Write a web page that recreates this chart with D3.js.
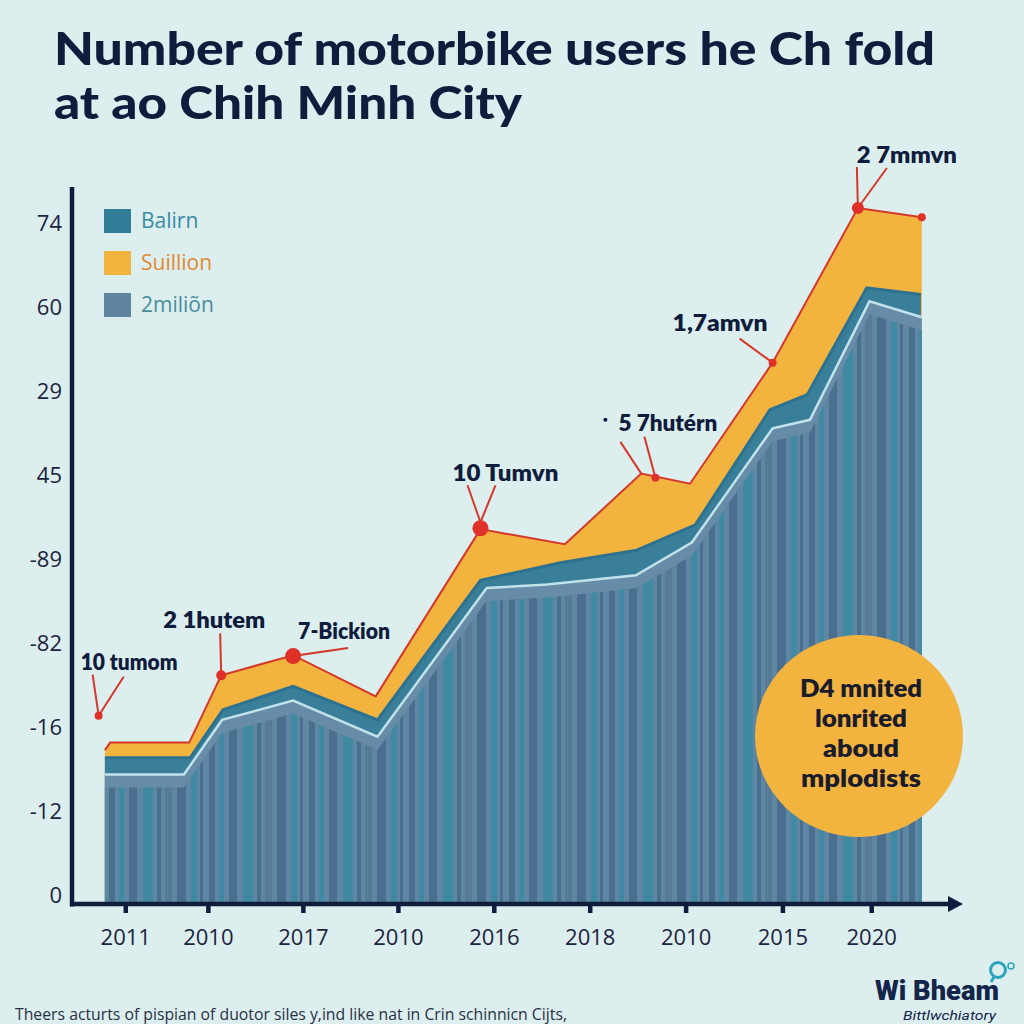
<!DOCTYPE html>
<html><head><meta charset="utf-8">
<script src="https://cdn.jsdelivr.net/npm/d3@7"></script>
<style>html,body{margin:0;padding:0;background:#dceeee;} svg{display:block;}</style>
</head><body>
<script>
// ---------- data ----------
const titleLines = ["Number of motorbike users he Ch fold", "at ao Chih Minh City"];
const xTickLabels = ["2011","2010","2017","2010","2016","2018","2010","2015","2020"];
const xTickVals = [6.0, 15.3, 26.0, 36.7, 47.5, 58.3, 69.1, 80.0, 90.0];
const yTickLabels = ["0","-12","-16","-82","-89","45","29","60","74"];
const yTickVals = [0, 10, 20, 30, 40, 50, 60, 70, 80];
const seriesNames = ["Balirn", "Suillion", "2miliõn"];
// cumulative tops of each layer: [x, value]
const suillionTop = [[3.7,17.3],[4.3,18.2],[13.2,18.2],[16.8,26.2],[24.9,28.6],[34.2,23.7],[46.0,43.6],[55.5,41.8],[64.1,50.2],[69.6,49.0],[78.9,63.4],[88.5,81.8],[95.7,80.7]];
const balirnTop   = [[3.7,16.4],[13.3,16.4],[17.0,22.1],[24.9,24.9],[34.4,20.9],[46.0,37.5],[55.0,39.6],[63.6,41.1],[70.2,44.1],[78.6,57.8],[82.8,59.6],[89.5,72.3],[95.6,71.5]];
const milionTop   = [[3.7,14.4],[12.6,14.4],[16.9,20.9],[24.9,23.2],[34.4,18.9],[46.7,36.6],[53.5,37.0],[63.5,38.1],[69.8,42.0],[78.9,55.6],[83.1,56.6],[89.8,70.7],[95.7,68.8]];
const calloutTexts  = ["10 tumom","2 1hutem","7-Bickion","10 Tumvn","5 7hutérn","1,7amvn","2 7mmvn"];
const calloutPoints = [[3.0,21.4],[16.8,26.2],[24.9,28.5],[46.0,43.7],[65.7,49.7],[78.9,63.4],[88.5,81.8]];
const endPoint = [95.7, 80.7];
const bubbleLines = ["D4 mnited","lonrited","aboud","mplodists"];
const footnote = "Theers acturts of pispian of duotor siles y,ind like nat in Crin schinnicn Cijts,";
const logoName = "Wi Bheam";
const logoSub = "Bittlwchiatory";

// ---------- layout / style ----------
const C = {
  bg: "#dceeee", navy: "#101c3c", orange: "#f2b33f", teal: "#3a7f99", tealEdge: "#2d7190",
  barBase: "#668cA8", light: "#c2e2ea", red: "#d6372b", text: "#1d2440"
};
const calloutLayout = [
  {tx:-18, ty:-54, w:97,  r:4, lines:[[-6,-41,0,0],[25,-39,0,0]]},
  {tx:-58, ty:-56, w:102, r:5, lines:[[-1,-42,0,0]]},
  {tx:5,   ty:-25, w:92,  r:8, lines:[[55,-8,0,0]]},
  {tx:-28, ty:-56, w:106, r:8, lines:[[-13,-43,0,-6],[15,-43,0,-6]]},
  {tx:-37, ty:-55, w:99,  r:4, lines:[[-35,-36,-14,-4],[-11,-41,0,0]], dot:[-50,-58]},
  {tx:-100,ty:-40, w:95,  r:4, lines:[[-33,-24,0,0]]},
  {tx:-1,  ty:-53, w:100, r:6, lines:[[-1,-41,0,0],[29,-40,0,0]]}
];
const stripeStyle = [
  [4,6,"#4a6e8e"],[14,5,"#3f8aa2"],[24,8,"#4b6f8f"],[38,10,"#3f89a1"],[52,4,"#4a6e8e"],
  [60,7,"#557b99"],[72,9,"#4a6e8e"],[86,6,"#3f8aa2"],[95,3,"#4b6f8f"]
];

const W = 1024, H = 1024;
const svg = d3.select("body").append("svg").attr("width", W).attr("height", H);
svg.append("rect").attr("width", W).attr("height", H).attr("fill", C.bg);

const x = d3.scaleLinear().domain([0, 100]).range([72, 960]);
const y = d3.scaleLinear().domain([-1, 84.3]).range([904, 187]);
const base = y.domain()[0];

// title
const title = svg.append("g").attr("font-family", "Lato, 'Open Sans', sans-serif").attr("font-weight", 900)
  .attr("fill", C.navy).attr("font-size", 46);
title.append("text").attr("x", 54).attr("y", 65).attr("textLength", 881).attr("lengthAdjust", "spacingAndGlyphs").text(titleLines[0]);
title.append("text").attr("x", 54).attr("y", 119).attr("textLength", 468).attr("lengthAdjust", "spacingAndGlyphs").text(titleLines[1]);

// defs
const defs = svg.append("defs");
const pat = defs.append("pattern").attr("id", "stripes").attr("patternUnits", "userSpaceOnUse")
  .attr("x", 105).attr("y", 0).attr("width", 100).attr("height", H);
pat.append("rect").attr("width", 100).attr("height", H).attr("fill", "#5f86a3");
stripeStyle.forEach(s => pat.append("rect").attr("x", s[0]).attr("width", s[1]).attr("height", H).attr("fill", s[2]));

const areaGen = d3.area().x(d => x(d[0])).y0(y(base)).y1(d => y(d[1]));
const areaShift = d3.area().x(d => x(d[0])).y0(y(base)).y1(d => y(d[1]) + 13);
const lineGen = d3.line().x(d => x(d[0])).y(d => y(d[1]));

defs.append("clipPath").attr("id", "barclip").append("path").attr("d", areaShift(milionTop));

// layers
svg.append("path").attr("d", areaGen(suillionTop)).attr("fill", C.orange);
svg.append("path").attr("d", areaGen(balirnTop)).attr("fill", C.teal);
svg.append("path").attr("d", lineGen(balirnTop)).attr("fill", "none").attr("stroke", C.tealEdge).attr("stroke-width", 3);
svg.append("path").attr("d", areaGen(milionTop)).attr("fill", C.barBase);
svg.append("rect").attr("x", 0).attr("y", 0).attr("width", W).attr("height", H)
  .attr("fill", "url(#stripes)").attr("clip-path", "url(#barclip)");
svg.append("path").attr("d", lineGen(milionTop)).attr("fill", "none").attr("stroke", C.light).attr("stroke-width", 2.5);
svg.append("path").attr("d", lineGen(suillionTop)).attr("fill", "none").attr("stroke", C.red).attr("stroke-width", 2);

// axes
const yAxis = d3.axisLeft(y).tickValues(yTickVals).tickFormat((d, i) => yTickLabels[i]).tickSize(0).tickPadding(10);
const gy = svg.append("g").attr("transform", `translate(${x(0)},0)`).call(yAxis);
gy.select(".domain").remove();
gy.selectAll("text").attr("font-family", "'Open Sans', sans-serif").attr("font-size", 22).attr("fill", C.text);

const xAxis = d3.axisBottom(x).tickValues(xTickVals).tickFormat((d, i) => xTickLabels[i]).tickSize(9).tickPadding(16);
const gx = svg.append("g").attr("transform", `translate(0,${y(base)})`).call(xAxis);
gx.select(".domain").remove();
gx.selectAll(".tick line").attr("stroke", C.navy).attr("stroke-width", 4.5);
gx.selectAll("text").attr("font-family", "'Open Sans', sans-serif").attr("font-size", 22).attr("fill", C.text);

svg.append("line").attr("x1", x(0)).attr("x2", x(0)).attr("y1", y.range()[1]).attr("y2", y(base) + 2.5)
  .attr("stroke", C.navy).attr("stroke-width", 4.5);
svg.append("line").attr("x1", x(0) - 2).attr("x2", x(100) - 6).attr("y1", y(base)).attr("y2", y(base))
  .attr("stroke", C.navy).attr("stroke-width", 4.5);
svg.append("path").attr("d", `M${x(100) - 12},${y(base) - 8} L${x(100) + 3},${y(base)} L${x(100) - 12},${y(base) + 8} Z`).attr("fill", C.navy);

// legend
const legColors = [ "#2f7d96", C.orange, "#5f849f" ];
const legText = [ "#3b8ba1", "#e08934", "#4a8d9b" ];
const legY = [221, 263, 305];
seriesNames.forEach((n, i) => {
  svg.append("rect").attr("x", 104).attr("y", legY[i] - 12).attr("width", 27).attr("height", 24).attr("fill", legColors[i]);
  svg.append("text").attr("x", 141).attr("y", legY[i]).attr("dy", "0.35em").attr("font-family", "'Open Sans', sans-serif")
    .attr("font-size", 21).attr("fill", legText[i]).text(n);
});

// callouts
const cg = svg.append("g");
calloutPoints.forEach((p, i) => {
  const L = calloutLayout[i];
  const px = x(p[0]), py = y(p[1]);
  L.lines.forEach(l => cg.append("line").attr("x1", px + l[0]).attr("y1", py + l[1]).attr("x2", px + l[2]).attr("y2", py + l[3])
    .attr("stroke", C.red).attr("stroke-width", 2));
  cg.append("circle").attr("cx", px).attr("cy", py).attr("r", L.r).attr("fill", "#e0302a");
  if (L.dot) cg.append("circle").attr("cx", px + L.dot[0]).attr("cy", py + L.dot[1]).attr("r", 2).attr("fill", C.navy);
  cg.append("text").attr("x", px + L.tx).attr("y", py + L.ty).attr("dy", "0.36em")
    .attr("font-family", "Lato, 'Open Sans', sans-serif").attr("font-weight", 800).attr("font-size", 23)
    .attr("fill", C.navy).attr("textLength", L.w).attr("lengthAdjust", "spacingAndGlyphs").text(calloutTexts[i]);
});
cg.append("circle").attr("cx", x(endPoint[0])).attr("cy", y(endPoint[1])).attr("r", 4).attr("fill", "#e0302a");

// bubble
svg.append("ellipse").attr("cx", 859).attr("cy", 736).attr("rx", 104).attr("ry", 101).attr("fill", C.orange);
const bubY = [688, 718, 748, 778];
const bubW = [122, 92, 76, 120];
bubbleLines.forEach((t, i) => {
  svg.append("text").attr("x", 861).attr("y", bubY[i]).attr("dy", "0.36em").attr("text-anchor", "middle")
    .attr("font-family", "Lato, 'Open Sans', sans-serif").attr("font-weight", 800).attr("font-size", 25)
    .attr("fill", "#1a1b2c").attr("textLength", bubW[i]).attr("lengthAdjust", "spacingAndGlyphs").text(t);
});

// footnote
svg.append("text").attr("x", 15).attr("y", 1020).attr("font-family", "'Open Sans', sans-serif").attr("font-size", 17)
  .attr("fill", "#2a3045").attr("textLength", 552).attr("lengthAdjust", "spacingAndGlyphs").text(footnote);

// logo
svg.append("text").attr("x", 875).attr("y", 1000).attr("font-family", "Roboto, 'Liberation Sans', sans-serif").attr("font-weight", 900)
  .attr("font-size", 28).attr("fill", "#13254a").attr("textLength", 124).attr("lengthAdjust", "spacingAndGlyphs").text(logoName);
svg.append("text").attr("x", 903).attr("y", 1020).attr("font-family", "Roboto, sans-serif").attr("font-style", "italic")
  .attr("font-size", 12).attr("fill", "#13254a").attr("textLength", 93).attr("lengthAdjust", "spacingAndGlyphs").text(logoSub);
svg.append("circle").attr("cx", 998).attr("cy", 970).attr("r", 7.5).attr("fill", "none").attr("stroke", "#2aa5ba").attr("stroke-width", 3);
svg.append("line").attr("x1", 994).attr("y1", 977).attr("x2", 991).attr("y2", 982).attr("stroke", "#2aa5ba").attr("stroke-width", 3);
svg.append("circle").attr("cx", 1011).attr("cy", 966).attr("r", 3).attr("fill", "none").attr("stroke", "#2aa5ba").attr("stroke-width", 1.5);
</script>
</body></html>
